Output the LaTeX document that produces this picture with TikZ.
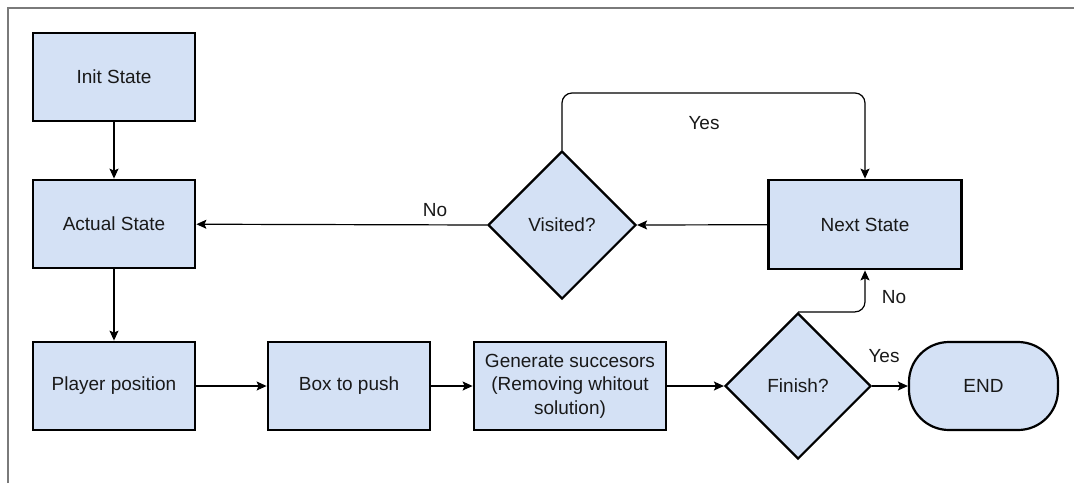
\documentclass[tikz,border=0pt]{standalone}
\usepackage{fontspec}
\setmainfont{Liberation Sans}
\usetikzlibrary{shapes.geometric,arrows.meta,calc}
\definecolor{boxfill}{HTML}{D4E1F5}
\definecolor{framegray}{HTML}{7A7A7A}
\begin{document}
\begin{tikzpicture}[x=1pt,y=-1pt,
  every node/.style={font=\fontsize{19}{23.5}\selectfont, text=black!90},
  proc/.style={draw=black, line width=2.8pt, fill=boxfill, rectangle,
    minimum height=88pt, inner sep=2pt, align=center},
  decision/.style={draw=black, line width=2.2pt, fill=boxfill, diamond,
    shape aspect=1, minimum width=146pt, minimum height=146pt, inner sep=0pt},
  terminal/.style={draw=black, line width=2.2pt, fill=boxfill, rectangle,
    rounded corners=40pt, minimum width=149pt, minimum height=88pt},
  arr/.style={line width=1.2pt, -{Stealth[length=10pt,width=9pt,inset=2pt]}},
  lbl/.style={inner sep=0pt}]
  \useasboundingbox (0,0) rectangle (1074,483);
  % partial frame
  \draw[framegray, line width=2pt] (8,483) -- (8,8) -- (1074,8);

  % nodes
  \node[proc, minimum width=162pt] (init)   at (114,77)  {Init State};
  \node[proc, minimum width=162pt] (actual) at (114,224) {Actual State};
  \node[proc, minimum width=162pt] (player) at (114,386) {Player position};
  \node[proc, minimum width=162pt] (push)   at (349,386) {Box to push};
  \node[proc, minimum width=192pt] (gen)    at (570,386)
    {Generate succesors\\(Removing whitout\\solution)};
  \node[decision] (finish)  at (798,386) {Finish?};
  \node[terminal] (end)     at (983.5,386) {END};
  \node[decision, minimum width=148pt, minimum height=148pt] (visited) at (562,225) {Visited?};
  \node[proc, minimum width=193pt, minimum height=89pt] (next) at (865,224.5) {Next State};

  % main flow
  \draw[arr] (init) -- (actual);
  \draw[arr] (actual) -- (player);
  \draw[arr] (player) -- (push);
  \draw[arr] (push) -- (gen);
  \draw[arr] (gen) -- (finish.west);
  \draw[arr] (finish.east) -- (end);
  \draw[arr] (next) -- (visited.east);
  \draw[arr] (visited.west) -- (actual);

  % loops
  \coordinate (yestop) at (0,93);
  \draw[arr, rounded corners=10pt] (visited.north) -- (visited.north |- yestop)
    -- (next.north |- yestop) -- (next.north);
  \draw[arr, rounded corners=10pt] (finish.north) -- (next.south |- finish.north)
    -- (next.south);

  % labels
  \node[lbl] (lyes1) at (704,123) {Yes};
  \node[lbl] (lno1)  at (435,210) {No};
  \node[lbl] (lno2)  at (894,297) {No};
  \node[lbl] (lyes2) at (884,356) {Yes};
\end{tikzpicture}
\end{document}
